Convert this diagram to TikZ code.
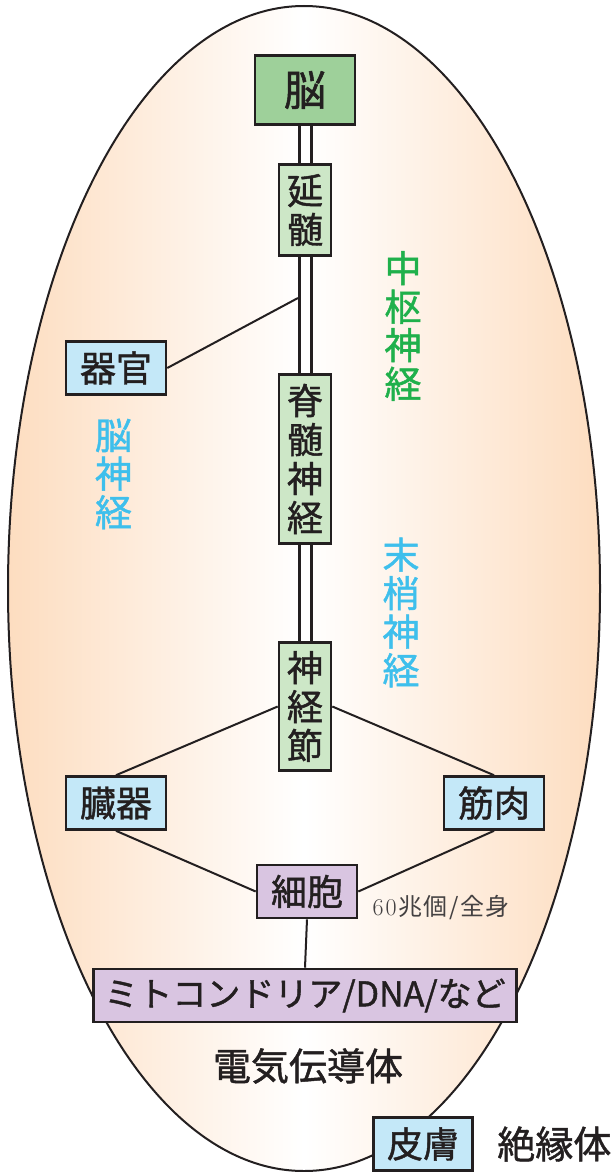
\documentclass[tikz,border=0pt]{standalone}
\usepackage{fontspec}
\newfontfamily\jp[FakeBold=1.2]{Noto Sans CJK JP}
\newfontfamily\jpthin[LetterSpace=6]{Noto Sans CJK JP}
\usetikzlibrary{positioning,calc}
\definecolor{peach}{HTML}{FDDDC0}
\definecolor{brainfill}{HTML}{9ED09A}
\definecolor{cnsfill}{HTML}{CDE7C7}
\definecolor{pnsfill}{HTML}{C4E8F8}
\definecolor{cellfill}{HTML}{D9C5E1}
\definecolor{cnstext}{HTML}{1FB04B}
\definecolor{pnstext}{HTML}{3EBFEC}
\definecolor{ink}{HTML}{231F20}

\begin{document}
\begin{tikzpicture}[x=1pt, y=-1pt,
    box/.style={draw=ink, line width=2.6pt, inner sep=0pt, text=ink,
      font=\jp\fontsize{36}{39}\selectfont, align=center},
    cns/.style={box, fill=cnsfill, minimum width=52pt},
    pns/.style={box, fill=pnsfill, minimum width=100pt, minimum height=53pt},
    cellbox/.style={box, fill=cellfill, minimum height=53pt},
    spine/.style={line width=3pt, draw=ink, double=white, double distance=9pt},
    link/.style={line width=2pt, draw=ink},
    side/.style={font=\jp\fontsize{37}{38.5}\selectfont, align=center}]
  \useasboundingbox (0,0) rectangle (612,1172);
  \shade[left color=peach, right color=peach, middle color=white]
    (304,588.5) ellipse [x radius=296pt, y radius=582.5pt];
  \draw[line width=2pt, ink] (304,588.5) ellipse [x radius=296pt, y radius=582.5pt];

  \node[box, fill=brainfill, minimum width=100pt, minimum height=69pt,
    font=\jp\fontsize{42}{42}\selectfont] (brain) at (305,90) {脳};
  \node[cns, minimum height=91pt] (medulla) at (305,210) {延\\髄};
  \node[cns, minimum height=169pt] (spinal) at (305,459) {脊\\髄\\神\\経};
  \node[cns, minimum height=128pt] (ganglion) at (305,706.5) {神\\経\\節};
  \node[pns] (organ) at (116,368) {器官};
  \node[pns] (viscera) at (116,803) {臓器};
  \node[pns] (muscle) at (494,803) {筋肉};
  \node[cellbox, minimum width=100pt] (cell) at (307,891.5) {細胞};
  \node[cellbox, minimum width=423pt, font=\jp\fontsize{34}{34}\selectfont]
    (mito) at (305,995.5) {ミトコンドリア/DNA/など};
  \node[pns, minimum width=99pt] (skin) at (423,1144) {皮膚};

  \node[side, text=cnstext] (cnslabel) at (403,326) {中\\枢\\神\\経};
  \node[side, text=pnstext] (cranial) at (113.5,474) {脳\\神\\経};
  \node[side, text=pnstext] (pnslabel) at (401,612.5) {末\\梢\\神\\経};
  \node[font=\fontsize{24}{24}\selectfont, text=ink!85, anchor=west]
    (count) at (369,908) {6\kern2pt0\kern2pt\jpthin 兆個/全身};
  \node[font=\jp\fontsize{38}{38}\selectfont, text=ink] (conductor) at (308,1066) {電気伝導体};
  \node[font=\jp\fontsize{38}{38}\selectfont, text=ink, right=20pt of skin] (insulator) {絶縁体};

  \coordinate (branch) at (298,298);
  \draw[spine] (brain) -- (medulla);
  \draw[spine] (medulla) -- (spinal);
  \draw[spine] (spinal) -- (ganglion);
  \draw[link] (organ.east) -- (branch);
  \draw[link] (ganglion.west) -- (viscera.north);
  \draw[link] (ganglion.east) -- (muscle.north);
  \draw[link] (viscera.south) -- (cell.west);
  \draw[link] (muscle.south) -- (cell.east);
  \draw[link] (cell.south) -- (mito.north);
\end{tikzpicture}
\end{document}
